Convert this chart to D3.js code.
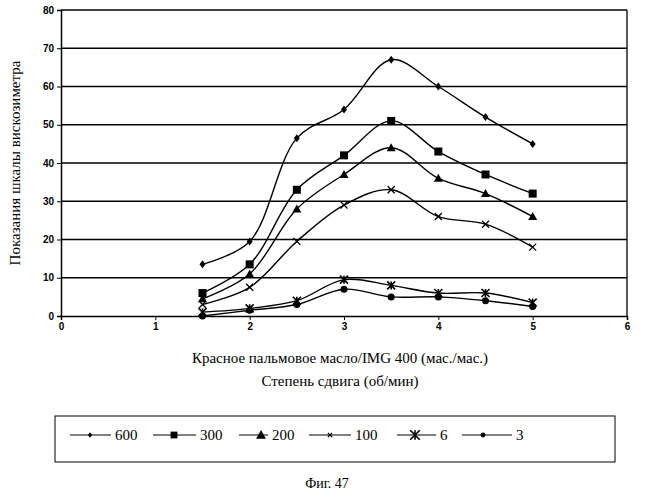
<!DOCTYPE html>
<html><head><meta charset="utf-8">
<script src="https://d3js.org/d3.v7.min.js"></script>
<style>body{margin:0;background:#fff}svg{font-family:"Liberation Serif",serif}</style>
</head><body><svg id="c" width="654" height="500"></svg>
<script>
// data
const xs = [1.5, 2, 2.5, 3, 3.5, 4, 4.5, 5];
const s600 = [13.5, 19.5, 46.5, 54, 67, 60, 52, 45];
const s300 = [6, 13.5, 33, 42, 51, 43, 37, 32];
const s200 = [4.5, 11, 28, 37, 44, 36, 32, 26];
const s100 = [3, 7.5, 19.5, 29, 33, 26, 24, 18];
const s6 = [1, 2, 4, 9.5, 8, 6, 6, 3.5];
const s3 = [0, 1.5, 3, 7, 5, 5, 4, 2.5];
const seriesNames = ["600", "300", "200", "100", "6", "3"];
const seriesData = [s600, s300, s200, s100, s6, s3];
const markers = ["diamond", "square", "triangle", "x", "star", "circle"];

const svg = d3.select("#c");
const x = d3.scaleLinear().domain([0, 6]).range([61, 627]);
const y = d3.scaleLinear().domain([0, 80]).range([316, 10]);

// gridlines
svg.append("g").selectAll("line").data(d3.range(10, 90, 10)).join("line")
  .attr("x1", x(0)).attr("x2", x(6)).attr("y1", d => y(d)).attr("y2", d => y(d))
  .attr("stroke", "#000").attr("stroke-width", 1.3);

// axes
const xa = svg.append("g").attr("transform", `translate(0,${y(0)})`)
  .call(d3.axisBottom(x).ticks(6).tickSize(4).tickFormat(d3.format("d")));
const ya = svg.append("g").attr("transform", `translate(${x(0)},0)`)
  .call(d3.axisLeft(y).ticks(8).tickSize(4));
[xa, ya].forEach(a => {
  a.selectAll("text").attr("font-family", "Liberation Sans, Arial").attr("font-weight", "bold").attr("font-size", 10);
  a.select(".domain").attr("stroke-width", 1.5);
});
svg.append("line").attr("x1", x(6)).attr("x2", x(6)).attr("y1", y(0)).attr("y2", y(80)).attr("stroke", "#000").attr("stroke-width", 1.3);

const line = d3.line().x((d, i) => x(xs[i])).y(d => y(d)).curve(d3.curveCatmullRom.alpha(0.5));

function marker(g, type, cx, cy, s = 1) {
  if (type === "diamond") g.append("path").attr("d", `M${cx},${cy-4*s}L${cx+3*s},${cy}L${cx},${cy+4*s}L${cx-3*s},${cy}Z`);
  else if (type === "square") g.append("rect").attr("x", cx-4*s).attr("y", cy-4*s).attr("width", 8*s).attr("height", 8*s);
  else if (type === "triangle") g.append("path").attr("d", `M${cx},${cy-4.5*s}L${cx+4.5*s},${cy+3.5*s}L${cx-4.5*s},${cy+3.5*s}Z`);
  else if (type === "x") g.append("path").attr("d", `M${cx-3.5*s},${cy-3.5*s}L${cx+3.5*s},${cy+3.5*s}M${cx+3.5*s},${cy-3.5*s}L${cx-3.5*s},${cy+3.5*s}`).attr("stroke", "#000").attr("stroke-width", 1.3);
  else if (type === "star") g.append("path").attr("d", `M${cx-4*s},${cy-4*s}L${cx+4*s},${cy+4*s}M${cx+4*s},${cy-4*s}L${cx-4*s},${cy+4*s}M${cx},${cy-4*s}L${cx},${cy+4*s}`).attr("stroke", "#000").attr("stroke-width", 1.6);
  else g.append("circle").attr("cx", cx).attr("cy", cy).attr("r", 3.5*s);
}

seriesData.forEach((vals, k) => {
  svg.append("path").attr("d", line(vals)).attr("fill", "none").attr("stroke", "#000").attr("stroke-width", 1.4);
  const g = svg.append("g").attr("fill", "#000");
  vals.forEach((v, i) => marker(g, markers[k], x(xs[i]), y(v)));
});

// axis titles
svg.append("text").attr("transform", `translate(20,${y(40)}) rotate(-90)`).attr("text-anchor", "middle")
  .attr("font-size", 15).text("Показания шкалы вискозиметра");
svg.append("text").attr("x", 340).attr("y", 363).attr("text-anchor", "middle").attr("font-size", 15)
  .text("Красное пальмовое масло/IMG 400 (мас./мас.)");
svg.append("text").attr("x", 340).attr("y", 386).attr("text-anchor", "middle").attr("font-size", 15)
  .text("Степень сдвига (об/мин)");

// legend
svg.append("rect").attr("x", 55).attr("y", 416).attr("width", 560).attr("height", 46)
  .attr("fill", "none").attr("stroke", "#000");
const legX = [70, 153, 239, 309, 397, 462];
const legM = [90, 174, 261, 330, 415, 483];
const legT = [115, 200, 272, 355, 440, 516];
const legS = [0.7, 0.85, 1.1, 0.6, 1.2, 0.7];
seriesNames.forEach((n, k) => {
  const ly = 435;
  svg.append("line").attr("x1", legX[k]).attr("x2", legT[k] - 4).attr("y1", ly).attr("y2", ly).attr("stroke", "#000");
  marker(svg.append("g").attr("fill", "#000"), markers[k], legM[k], ly, legS[k]);
  svg.append("text").attr("x", legT[k]).attr("y", ly + 5).attr("font-size", 15).text(n);
});

svg.append("text").attr("x", 327).attr("y", 488).attr("text-anchor", "middle").attr("font-size", 14).text("Фиг. 47");
</script></body></html>
